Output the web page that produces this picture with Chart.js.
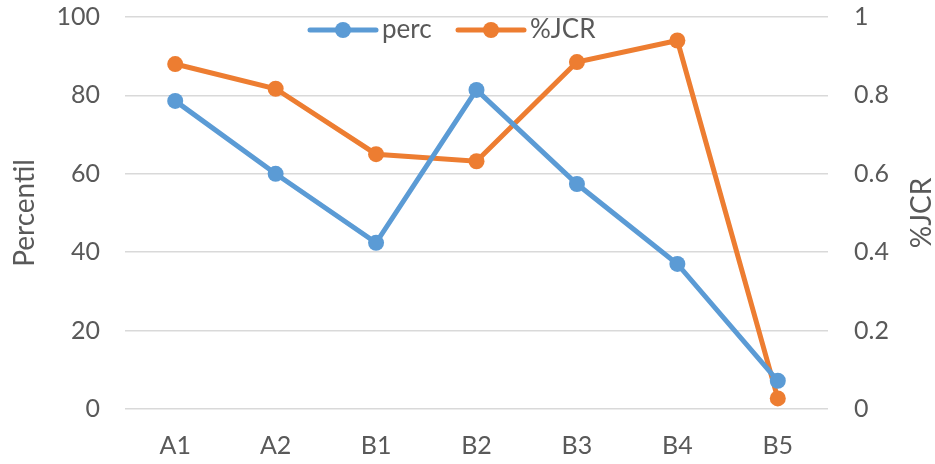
<!DOCTYPE html>
<html>
<head>
<meta charset="utf-8">
<script src="https://cdn.jsdelivr.net/npm/chart.js@4/dist/chart.umd.min.js"></script>
<style>
  html, body { margin: 0; padding: 0; background: #fff; }
  #wrap { width: 935px; height: 464px; }
</style>
</head>
<body>
<div id="wrap"><canvas id="chart" width="935" height="464"></canvas></div>
<script>
const categories = ['A1', 'A2', 'B1', 'B2', 'B3', 'B4', 'B5'];
const percValues = [78.6, 60, 42.4, 81.4, 57.4, 37, 7.2];
const jcrValues = [0.88, 0.817, 0.65, 0.632, 0.885, 0.94, 0.027];
const leftTicks = [0, 20, 40, 60, 80, 100];
const rightTicks = [0, 0.2, 0.4, 0.6, 0.8, 1];

const blue = '#5B9BD5';
const orange = '#ED7D31';
const textColor = '#595959';
const fontFamily = 'Lato, "Open Sans", sans-serif';
const font = { family: fontFamily, size: 25 };

// legend + axis titles, drawn by hand to look like the original
const extras = {
  id: 'extras',
  afterDraw(chart) {
    const ctx = chart.ctx;
    const area = chart.chartArea;
    ctx.save();
    ctx.font = '28px ' + fontFamily;
    ctx.fillStyle = textColor;

    // axis titles
    const midY = (area.top + area.bottom) / 2;
    ctx.textAlign = 'center';
    ctx.textBaseline = 'middle';
    ctx.save();
    ctx.translate(25, midY);
    ctx.rotate(-Math.PI / 2);
    ctx.fillText('Percentil', 0, 0);
    ctx.restore();
    ctx.save();
    ctx.translate(922, midY);
    ctx.rotate(-Math.PI / 2);
    ctx.fillText('%JCR', 0, 0);
    ctx.restore();

    // legend
    ctx.font = '26px ' + fontFamily;
    const items = [
      { label: 'perc', color: blue, x: 310 },
      { label: '%JCR', color: orange, x: 458 }
    ];
    const ly = 30;
    items.forEach(it => {
      ctx.strokeStyle = it.color;
      ctx.lineWidth = 5;
      ctx.lineCap = 'round';
      ctx.beginPath();
      ctx.moveTo(it.x, ly);
      ctx.lineTo(it.x + 66, ly);
      ctx.stroke();
      ctx.fillStyle = it.color;
      ctx.beginPath();
      ctx.arc(it.x + 33, ly, 8, 0, Math.PI * 2);
      ctx.fill();
      ctx.fillStyle = textColor;
      ctx.textAlign = 'left';
      ctx.fillText(it.label, it.x + 72, ly);
    });
    ctx.restore();
  }
};

function fixY(width) {
  return function(s) {
    s.width = width;
    s.paddingTop = 0;
    s.paddingBottom = 0;
  };
}

new Chart(document.getElementById('chart'), {
  type: 'line',
  data: {
    labels: categories,
    datasets: [
      {
        label: 'perc',
        data: percValues,
        yAxisID: 'y',
        borderColor: blue,
        backgroundColor: blue,
        borderWidth: 5,
        pointRadius: 8,
        pointBorderWidth: 0,
        pointBackgroundColor: blue
      },
      {
        label: '%JCR',
        data: jcrValues,
        yAxisID: 'y1',
        borderColor: orange,
        backgroundColor: orange,
        borderWidth: 5,
        pointRadius: 8,
        pointBorderWidth: 0,
        pointBackgroundColor: orange
      }
    ]
  },
  options: {
    responsive: false,
    animation: false,
    layout: { padding: { top: 17, left: 0, right: 0, bottom: 0 } },
    plugins: {
      legend: { display: false },
      tooltip: { enabled: false }
    },
    scales: {
      x: {
        offset: true,
        grid: { display: false },
        border: { display: false },
        ticks: { color: textColor, font: font, padding: 14 },
        afterFit(s) { s.height = 55; s.paddingLeft = 0; s.paddingRight = 0; }
      },
      y: {
        position: 'left',
        min: 0,
        max: 100,
        afterBuildTicks(s) { s.ticks = leftTicks.map(v => ({ value: v })); },
        grid: { color: '#D9D9D9', lineWidth: 1.5, drawTicks: false },
        border: { display: false },
        ticks: { color: textColor, font: font, padding: 25 },
        afterFit: fixY(125)
      },
      y1: {
        position: 'right',
        min: 0,
        max: 1,
        afterBuildTicks(s) { s.ticks = rightTicks.map(v => ({ value: v })); },
        grid: { display: false, drawTicks: false },
        border: { display: false },
        ticks: { color: textColor, font: font, padding: 26, callback: v => String(v) },
        afterFit: fixY(107)
      }
    }
  },
  plugins: [extras]
});
</script>
</body>
</html>
